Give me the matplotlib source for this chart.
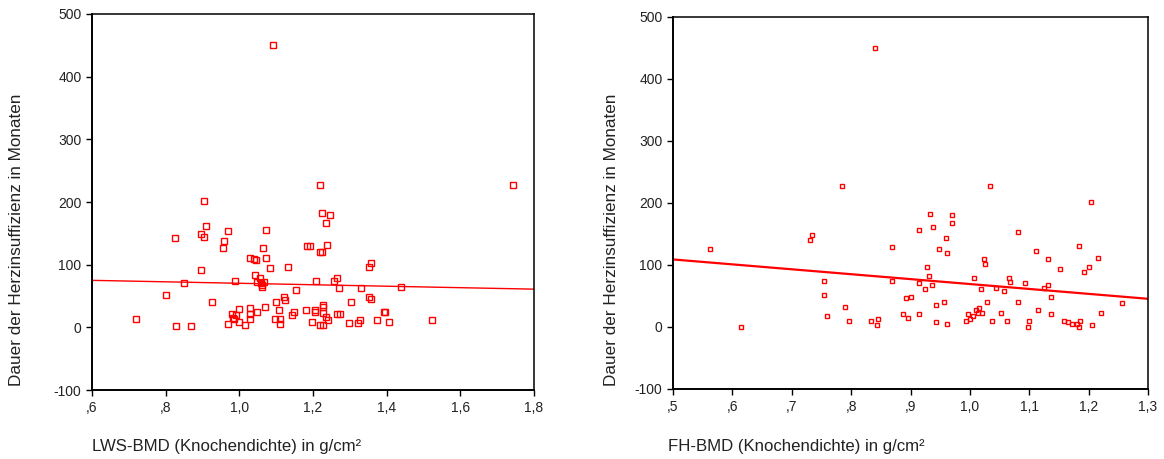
import matplotlib
matplotlib.use("Agg")
import matplotlib.pyplot as plt
import matplotlib.ticker as ticker
import numpy as np

plt.rcParams["font.family"] = ["Liberation Sans", "DejaVu Sans"]
plt.rcParams["axes.unicode_minus"] = False

# LWS-BMD gegen Dauer der Herzinsuffizienz (linkes Diagramm)
lws_bmd = [1.092, 1.742, 1.22, 0.903, 1.224, 1.245, 1.235, 0.91, 0.896, 0.903,
           0.826, 0.97, 1.072, 0.959, 0.955, 1.065, 1.185, 1.192, 1.238, 1.22,
           1.225, 1.029, 1.041, 1.044, 1.072, 1.083, 1.132, 0.897, 1.351, 1.358,
           1.042, 1.055, 0.85, 0.987, 1.047, 1.059, 1.066, 1.061, 1.062, 1.209,
           1.264, 1.256, 1.27, 1.33, 0.80, 1.153, 1.122, 1.123, 1.352, 1.358,
           0.927, 1.10, 1.069, 1.302, 1.226, 1.226, 0.998, 1.03, 1.109, 1.181,
           1.206, 1.206, 0.72, 0.98, 0.991, 0.982, 0.986, 1.03, 1.03, 1.048,
           1.149, 1.142, 1.097, 1.11, 1.227, 1.234, 1.241, 1.264, 1.274, 0.97,
           0.999, 1.016, 1.111, 1.196, 1.22, 1.227, 0.828, 0.868, 1.298, 1.322,
           1.327, 1.375, 1.524, 1.438, 1.406, 1.392, 1.396]
lws_dauer = [450, 227, 227, 201, 182, 179, 167, 161, 149, 144,
             143, 154, 155, 137, 126, 126, 130, 130, 131, 120,
             121, 111, 109, 108, 111, 95, 96, 91, 96, 102,
             84, 79, 71, 74, 72, 70, 72, 64, 68, 74,
             79, 74, 63, 63, 51, 59, 49, 43, 49, 46,
             41, 40, 33, 41, 36, 33, 30, 31, 28, 28,
             28, 24, 13, 22, 19, 15, 13, 21, 14, 25,
             25, 19, 13, 13, 23, 16, 12, 22, 22, 5,
             8, 4, 5, 8, 3, 4, 2, 2, 7, 7,
             12, 12, 12, 65, 8, 24, 24]

# FH-BMD gegen Dauer der Herzinsuffizienz (rechtes Diagramm)
fh_bmd = [0.84, 0.563, 0.614, 0.784, 0.731, 0.734, 0.754, 0.754, 0.76, 0.789,
          0.797, 0.834, 0.843, 0.845, 0.869, 0.869, 0.887, 0.896, 0.893, 0.901,
          0.915, 0.915, 0.915, 1.034, 1.204, 0.933, 0.97, 0.97, 0.938, 1.081,
          0.959, 0.948, 0.962, 1.183, 1.111, 1.023, 1.026, 1.132, 1.215, 1.151,
          1.201, 1.193, 0.928, 0.931, 0.936, 0.925, 1.007, 1.018, 1.066, 1.068,
          1.044, 1.058, 1.093, 1.125, 1.132, 1.137, 0.943, 0.957, 1.029, 1.081,
          1.257, 1.114, 1.22, 0.943, 0.962, 0.997, 1.01, 1.015, 1.013, 1.021,
          1.005, 1.0, 0.994, 1.037, 1.053, 1.063, 1.10, 1.098, 1.137, 1.159,
          1.166, 1.172, 1.18, 1.185, 1.183, 1.206]
fh_dauer = [450, 126, 0, 227, 141, 149, 74, 51, 18, 33,
            10, 10, 3, 13, 129, 74, 21, 15, 46, 48,
            157, 71, 21, 227, 202, 182, 180, 167, 162, 154,
            144, 126, 119, 131, 122, 109, 101, 109, 111, 94,
            96, 89, 96, 83, 68, 61, 79, 61, 79, 73,
            63, 58, 71, 63, 68, 48, 36, 40, 40, 40,
            38, 28, 23, 8, 5, 21, 28, 31, 23, 23,
            18, 13, 10, 10, 23, 10, 10, 0, 21, 10,
            8, 5, 5, 10, 0, 3]

# Regressionsgeraden (Achsenabschnitt, Steigung)
fit_lws = [82.0, -11.7]
fit_fh = [148.6, -79.3]

y_ticks = [-100, 0, 100, 200, 300, 400, 500]
lws_xticks = [0.6, 0.8, 1.0, 1.2, 1.4, 1.6, 1.8]
fh_xticks = [0.5, 0.6, 0.7, 0.8, 0.9, 1.0, 1.1, 1.2, 1.3]

ylabel = "Dauer der Herzinsuffizienz in Monaten"
lws_xlabel = "LWS-BMD (Knochendichte) in g/cm²"
fh_xlabel = "FH-BMD (Knochendichte) in g/cm²"


def de_format(v, pos):
    s = f"{v:.1f}".replace(".", ",")
    if s.startswith("0,"):
        s = s[1:]
    return s


fig = plt.figure(figsize=(11.64, 4.59), dpi=100)
ax1 = fig.add_axes([92 / 1164, 1 - 390 / 459, 442 / 1164, 376 / 459])
ax2 = fig.add_axes([673 / 1164, 1 - 389 / 459, 475 / 1164, 372 / 459])

panels = [
    (ax1, lws_bmd, lws_dauer, fit_lws, lws_xticks, lws_xlabel, 4.6, 1.0, 17, 92),
    (ax2, fh_bmd, fh_dauer, fit_fh, fh_xticks, fh_xlabel, 3.4, 1.6, 612, 668),
]

for ax, xs, ys, fit, xt, xl, ms, lw, ylab_x, xlab_x in panels:
    ax.plot(xs, ys, linestyle="none", marker="s", markersize=ms,
            markerfacecolor="none", markeredgecolor="#ff0000",
            markeredgewidth=1.0, zorder=3)
    lo, hi = xt[0], xt[-1]
    gx = np.array([lo, hi])
    ax.plot(gx, fit[0] + fit[1] * gx, color="#ff0000", lw=lw, zorder=2)
    ax.set_xlim(lo, hi)
    ax.set_ylim(-100, 500)
    ax.set_xticks(xt)
    ax.set_yticks(y_ticks)
    ax.xaxis.set_major_formatter(ticker.FuncFormatter(de_format))
    ax.tick_params(direction="out", length=4.5, width=1, labelsize=10,
                   colors="black", labelcolor="#222222", pad=3)
    ax.tick_params(axis="x", pad=3.5)
    for side in ["left", "bottom"]:
        ax.spines[side].set_linewidth(1.4)
    for side in ["top", "right"]:
        ax.spines[side].set_linewidth(1.1)
    # Beschriftungen
    fig.text(ylab_x / 1164, 1 - 240 / 459, ylabel, rotation=90,
             ha="center", va="center", fontsize=12.3, color="#222222")
    fig.text(xlab_x / 1164, 1 - 447 / 459, xl, ha="left", va="center",
             fontsize=12.1, color="#222222")

fig.savefig("out.png", dpi=100)
